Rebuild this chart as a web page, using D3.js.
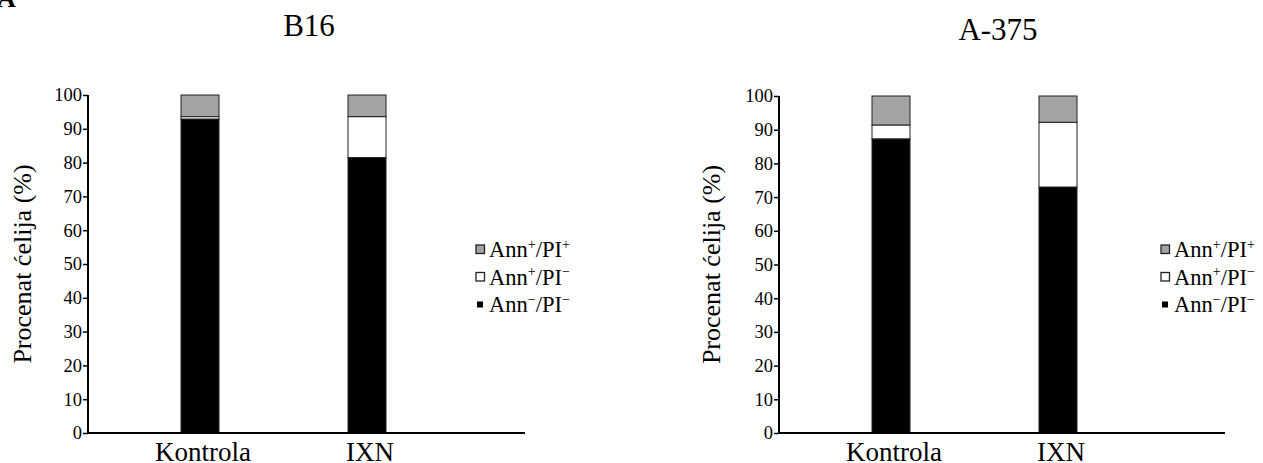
<!DOCTYPE html>
<html>
<head>
<meta charset="utf-8">
<script src="https://cdn.jsdelivr.net/npm/d3@7"></script>
<style>
  body { margin: 0; background: #fff; }
  svg text { font-family: "Liberation Serif", "Times New Roman", serif; }
</style>
</head>
<body>
<svg id="chart" width="1263" height="463"></svg>
<script>
const categories = ['Kontrola', 'IXN'];
const yTicks = [0, 10, 20, 30, 40, 50, 60, 70, 80, 90, 100];

// series stacked bottom -> top
const seriesKeys = ['live', 'early', 'late'];
const seriesColors = { live: '#000000', early: '#ffffff', late: '#a3a3a3' };

const b16Live = [92.9, 81.5];
const b16Early = [0.7, 12.1];
const b16Late = [6.4, 6.4];

const a375Live = [87.3, 73.0];
const a375Early = [4.1, 19.2];
const a375Late = [8.6, 7.8];

// legend order top -> bottom: [key, ann sign, PI sign]
const legendItems = [
  ['late', '+', '+'],
  ['early', '+', '−'],
  ['live', '−', '−'],
];

const SERIF = '"Liberation Serif", "Times New Roman", serif';
const svg = d3.select('#chart').attr('font-family', SERIF);

svg.append('text').attr('x', -3).attr('y', 7)
  .attr('font-size', 26).attr('font-weight', 'bold').text('A');

function drawPanel(opts) {
  const rows = categories.map((c, i) => ({
    cat: c, live: opts.live[i], early: opts.early[i], late: opts.late[i]
  }));
  const stacked = d3.stack().keys(seriesKeys)(rows);

  const y = d3.scaleLinear().domain([0, 100]).range([433, opts.top]);
  const x = d3.scalePoint().domain(categories)
    .range([opts.axisX + 112, opts.axisX + 279]);
  const barW = 38;

  const g = svg.append('g');

  g.append('text').attr('x', opts.titleX).attr('y', opts.titleY)
    .attr('text-anchor', 'middle').attr('font-size', 31).text(opts.title);

  // bars
  stacked.forEach(s => {
    g.selectAll(null).data(s).enter().append('rect')
      .attr('x', d => x(d.data.cat) - barW / 2)
      .attr('y', d => y(d[1]))
      .attr('width', barW)
      .attr('height', d => y(d[0]) - y(d[1]))
      .attr('fill', seriesColors[s.key])
      .attr('stroke', '#222').attr('stroke-width', 1);
  });

  // y axis
  const yAxis = g.append('g').attr('transform', `translate(${opts.axisX},0)`)
    .call(d3.axisLeft(y).tickValues(yTicks).tickSize(5).tickPadding(1));
  yAxis.select('.domain').attr('d', `M0,${y(100)}V${y(0)}`).attr('stroke-width', 2);
  yAxis.selectAll('.tick line').attr('stroke-width', 1.5);
  yAxis.selectAll('.tick text').attr('font-size', 18.5).attr('fill', '#000');

  // x axis line
  g.append('line').attr('x1', opts.axisX - 1).attr('x2', opts.axisEnd)
    .attr('y1', y(0)).attr('y2', y(0)).attr('stroke', '#000').attr('stroke-width', 2);

  g.selectAll(null).data(categories).enter().append('text')
    .attr('x', d => x(d) + 3).attr('y', 461)
    .attr('text-anchor', 'middle').attr('font-size', 27).text(d => d);

  g.append('text')
    .attr('transform', `translate(${opts.axisX - opts.labelOff},${(y(0) + y(100)) / 2}) rotate(-90)`)
    .attr('text-anchor', 'middle').attr('font-size', 26).text('Procenat ćelija (%)');

  // legend
  const lg = g.append('g').attr('transform', `translate(${opts.legendX},244)`);
  legendItems.forEach((it, i) => {
    const row = lg.append('g').attr('transform', `translate(0,${i * 27.5})`);
    if (it[0] === 'live') {
      row.append('rect').attr('x', 1).attr('y', 2.5).attr('width', 6).attr('height', 6)
        .attr('fill', '#000');
    } else {
      row.append('rect').attr('x', 0).attr('y', 1).attr('width', 8.5).attr('height', 8.5)
        .attr('fill', seriesColors[it[0]]).attr('stroke', '#222').attr('stroke-width', 1.3);
    }
    const t = row.append('text').attr('x', 13).attr('y', 13).attr('font-size', 22.5);
    t.append('tspan').text('Ann');
    t.append('tspan').attr('font-size', 14).attr('dy', -8.5).text(it[1]);
    t.append('tspan').attr('dy', 8.5).text('/PI');
    t.append('tspan').attr('font-size', 14).attr('dy', -8.5).text(it[2]);
  });
}

drawPanel({
  title: 'B16', titleX: 309, titleY: 36,
  axisX: 88, axisEnd: 525, top: 95, legendX: 476, labelOff: 57,
  live: b16Live, early: b16Early, late: b16Late
});

drawPanel({
  title: 'A-375', titleX: 998, titleY: 40,
  axisX: 779, axisEnd: 1225, top: 96, legendX: 1161, labelOff: 59,
  live: a375Live, early: a375Early, late: a375Late
});
</script>
</body>
</html>
